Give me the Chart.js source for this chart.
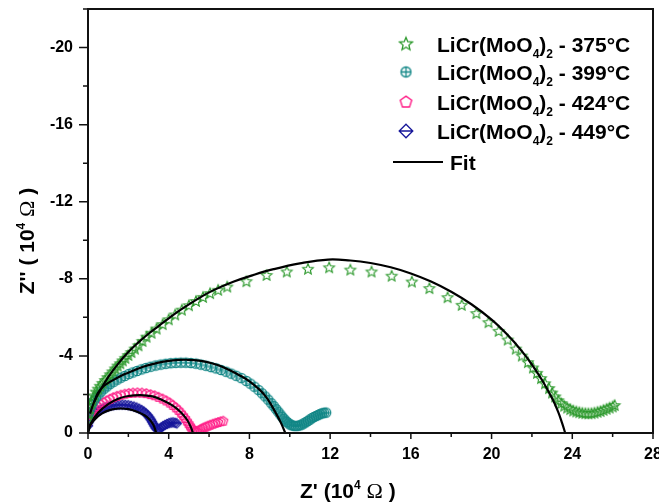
<!DOCTYPE html>
<html>
<head>
<meta charset="utf-8">
<script src="https://cdn.jsdelivr.net/npm/chart.js@4.4.1/dist/chart.umd.min.js"></script>
<style>
  html, body { margin: 0; padding: 0; background: #fff; }
  canvas { display: block; }
</style>
</head>
<body>
<canvas id="chart" width="659" height="503"></canvas>
<script>
// Nyquist data, Z' and Z'' in 10^4 ohm
const temps = ['375', '399', '424', '449'];

const x375 = [0.00, 0.02, 0.05, 0.12, 0.2, 0.3, 0.4, 0.5, 0.6, 0.72, 0.85, 0.97, 1.1, 1.22, 1.35, 1.47, 1.6, 1.72, 1.85, 2.0, 2.15, 2.32, 2.5, 2.7, 2.9, 3.15, 3.4, 3.7, 4.0, 4.32, 4.65, 5.0, 5.35, 5.7, 6.05, 6.45, 6.9, 7.85, 8.85, 9.85, 10.9, 11.95, 13.0, 14.05, 15.05, 16.05, 16.92, 17.82, 18.52, 19.25, 19.85, 20.35, 20.8, 21.2, 21.5, 21.8, 22.05, 22.25, 22.45, 22.65, 22.85, 23.0, 23.15, 23.3, 23.45, 23.6, 23.75, 23.9, 24.05, 24.2, 24.35, 24.5, 24.65, 24.8, 24.95, 25.1, 25.25, 25.4, 25.55, 25.7, 25.85, 26.0, 26.1];
const y375 = [-0.75, -1.0, -1.3, -1.5, -1.7, -1.95, -2.15, -2.3, -2.45, -2.6, -2.75, -2.9, -3.05, -3.2, -3.35, -3.5, -3.62, -3.77, -3.9, -4.05, -4.2, -4.38, -4.55, -4.78, -5.0, -5.2, -5.42, -5.65, -5.9, -6.15, -6.4, -6.63, -6.85, -7.06, -7.26, -7.43, -7.6, -7.88, -8.2, -8.38, -8.52, -8.6, -8.48, -8.38, -8.16, -7.86, -7.52, -7.05, -6.65, -6.22, -5.75, -5.3, -4.85, -4.38, -4.02, -3.68, -3.4, -3.12, -2.85, -2.58, -2.33, -2.1, -1.9, -1.7, -1.55, -1.42, -1.32, -1.24, -1.17, -1.12, -1.08, -1.05, -1.03, -1.02, -1.03, -1.06, -1.1, -1.14, -1.2, -1.26, -1.32, -1.38, -1.45];

const x399 = [0.0, 0.05, 0.12, 0.2, 0.3, 0.4, 0.52, 0.65, 0.8, 0.95, 1.1, 1.27, 1.45, 1.63, 1.82, 2.02, 2.22, 2.43, 2.65, 2.87, 3.1, 3.35, 3.6, 3.85, 4.1, 4.35, 4.6, 4.85, 5.1, 5.35, 5.6, 5.85, 6.1, 6.35, 6.6, 6.85, 7.1, 7.35, 7.6, 7.85, 8.05, 8.25, 8.45, 8.62, 8.78, 8.93, 9.08, 9.2, 9.32, 9.43, 9.53, 9.62, 9.7, 9.78, 9.86, 9.94, 10.02, 10.1, 10.2, 10.3, 10.4, 10.5, 10.6, 10.7, 10.8, 10.9, 11.0, 11.1, 11.2, 11.3, 11.4, 11.5, 11.6, 11.7, 11.8];
const y399 = [-0.8, -1.05, -1.3, -1.5, -1.68, -1.85, -2.0, -2.15, -2.3, -2.42, -2.55, -2.66, -2.77, -2.87, -2.96, -3.06, -3.14, -3.22, -3.3, -3.37, -3.44, -3.5, -3.55, -3.59, -3.62, -3.64, -3.65, -3.65, -3.63, -3.6, -3.55, -3.49, -3.42, -3.35, -3.27, -3.18, -3.08, -2.97, -2.85, -2.7, -2.56, -2.4, -2.23, -2.06, -1.9, -1.73, -1.55, -1.4, -1.24, -1.1, -0.96, -0.84, -0.74, -0.65, -0.57, -0.5, -0.44, -0.4, -0.37, -0.36, -0.37, -0.4, -0.44, -0.5, -0.56, -0.63, -0.7, -0.77, -0.83, -0.88, -0.93, -0.98, -1.02, -1.05, -1.06];

const x424 = [0.0, 0.04, 0.1, 0.18, 0.27, 0.37, 0.5, 0.63, 0.77, 0.92, 1.08, 1.25, 1.43, 1.62, 1.82, 2.02, 2.23, 2.45, 2.67, 2.89, 3.1, 3.3, 3.5, 3.7, 3.88, 4.05, 4.2, 4.35, 4.48, 4.6, 4.71, 4.81, 4.9, 4.98, 5.05, 5.12, 5.19, 5.26, 5.33, 5.4, 5.47, 5.55, 5.63, 5.72, 5.82, 5.93, 6.05, 6.18, 6.31, 6.44, 6.57, 6.7];
const y424 = [-0.62, -0.8, -0.95, -1.08, -1.2, -1.3, -1.4, -1.5, -1.6, -1.69, -1.78, -1.86, -1.93, -1.99, -2.04, -2.08, -2.1, -2.11, -2.1, -2.07, -2.02, -1.96, -1.88, -1.79, -1.69, -1.58, -1.46, -1.33, -1.2, -1.06, -0.92, -0.78, -0.64, -0.51, -0.39, -0.28, -0.19, -0.13, -0.1, -0.1, -0.13, -0.18, -0.23, -0.28, -0.33, -0.38, -0.43, -0.48, -0.53, -0.57, -0.61, -0.64];

const x449 = [0.0, 0.03, 0.08, 0.15, 0.23, 0.32, 0.42, 0.52, 0.63, 0.75, 0.87, 1.0, 1.13, 1.27, 1.41, 1.55, 1.7, 1.85, 2.0, 2.14, 2.28, 2.41, 2.54, 2.66, 2.77, 2.87, 2.96, 3.04, 3.11, 3.17, 3.23, 3.29, 3.35, 3.41, 3.48, 3.55, 3.63, 3.72, 3.82, 3.92, 4.02, 4.12, 4.22, 4.32, 4.4];
const y449 = [-0.38, -0.55, -0.68, -0.8, -0.9, -0.99, -1.07, -1.14, -1.21, -1.27, -1.32, -1.37, -1.41, -1.44, -1.46, -1.47, -1.47, -1.46, -1.44, -1.41, -1.37, -1.32, -1.26, -1.19, -1.11, -1.02, -0.92, -0.81, -0.7, -0.59, -0.48, -0.37, -0.27, -0.2, -0.18, -0.22, -0.29, -0.36, -0.42, -0.47, -0.51, -0.54, -0.55, -0.53, -0.5];

// fitted curves
const fitX375 = [0.1, 0.3, 0.6, 1.0, 1.5, 2.0, 2.5, 3.0, 3.5, 4.0, 4.6, 5.5, 6.2, 7.2, 8.2, 9.2, 10.5, 11.9, 13.0, 14.0, 15.0, 16.0, 17.0, 18.0, 19.0, 20.0, 20.8, 21.5, 22.0, 22.5, 23.0, 23.3, 23.5, 23.65];
const fitY375 = [-1.0, -1.6, -2.2, -2.9, -3.6, -4.2, -4.7, -5.15, -5.55, -5.95, -6.4, -7.0, -7.4, -7.85, -8.2, -8.5, -8.8, -9.0, -8.95, -8.82, -8.6, -8.28, -7.86, -7.33, -6.68, -5.88, -5.08, -4.25, -3.55, -2.75, -1.8, -1.1, -0.5, 0];

const fitX399 = [0.3, 0.5, 0.8, 1.2, 1.6, 2.0, 2.5, 3.0, 3.5, 4.0, 4.5, 4.9, 5.5, 6.0, 6.5, 7.0, 7.5, 8.0, 8.5, 8.8, 9.0, 9.3, 9.55, 9.78];
const fitY399 = [-1.6, -2.1, -2.45, -2.72, -2.95, -3.13, -3.35, -3.52, -3.65, -3.74, -3.79, -3.8, -3.76, -3.66, -3.5, -3.27, -3.0, -2.68, -2.25, -1.9, -1.6, -1.05, -0.55, 0];

const fitX424 = [0.0, 0.15, 0.5, 1.0, 1.5, 2.0, 2.6, 3.2, 3.7, 4.2, 4.6, 4.9, 5.1, 5.2];
const fitY424 = [0, -0.5, -1.05, -1.5, -1.78, -1.92, -1.97, -1.9, -1.7, -1.42, -1.08, -0.7, -0.3, 0];

const fitX449 = [0.0, 0.1, 0.35, 0.7, 1.1, 1.55, 2.0, 2.4, 2.8, 3.05, 3.25, 3.38];
const fitY449 = [0, -0.4, -0.72, -1.02, -1.2, -1.27, -1.24, -1.12, -0.92, -0.7, -0.4, 0];

const colors = ['#2a982a', '#138787', '#ff1f88', '#16169a'];

const toPts = (xs, ys) => xs.map((x, i) => ({ x: x, y: ys[i] }));

function makeMarker(kind, color, r, lw) {
  const s = Math.ceil(2 * r + lw + 3);
  const c = document.createElement('canvas');
  c.width = s; c.height = s;
  const g = c.getContext('2d');
  const m = s / 2;
  g.strokeStyle = color;
  g.lineWidth = lw;
  g.beginPath();
  if (kind === 'star') {
    for (let i = 0; i < 10; i++) {
      const a = -Math.PI / 2 + i * Math.PI / 5;
      const rr = i % 2 ? r * 0.45 : r;
      const px = m + rr * Math.cos(a), py = m + rr * Math.sin(a) + r * 0.1;
      i ? g.lineTo(px, py) : g.moveTo(px, py);
    }
    g.closePath();
  } else if (kind === 'circlePlus') {
    g.arc(m, m, r, 0, Math.PI * 2);
    g.moveTo(m - r, m); g.lineTo(m + r, m);
    g.moveTo(m, m - r); g.lineTo(m, m + r);
  } else if (kind === 'pentagon') {
    for (let i = 0; i < 5; i++) {
      const a = -Math.PI / 2 + i * 2 * Math.PI / 5;
      const px = m + r * Math.cos(a), py = m + r * Math.sin(a) + r * 0.1;
      i ? g.lineTo(px, py) : g.moveTo(px, py);
    }
    g.closePath();
  } else {
    g.moveTo(m, m - r); g.lineTo(m + r, m); g.lineTo(m, m + r); g.lineTo(m - r, m); g.closePath();
    g.moveTo(m - r, m); g.lineTo(m + r, m);
  }
  g.stroke();
  return c;
}

const dataMarkers = [
  makeMarker('star', colors[0], 5.6, 1.1),
  makeMarker('circlePlus', colors[1], 4.7, 1.2),
  makeMarker('pentagon', colors[2], 4.8, 1.2),
  makeMarker('diamondLine', colors[3], 4.7, 1.2)
];
const legendMarkers = [
  makeMarker('star', colors[0], 6.8, 1.3),
  makeMarker('circlePlus', colors[1], 5, 1.3),
  makeMarker('pentagon', colors[2], 6, 1.4),
  makeMarker('diamondLine', colors[3], 6.8, 1.3)
];

const series = [toPts(x375, y375), toPts(x399, y399), toPts(x424, y424), toPts(x449, y449)];
const fits = [toPts(fitX375, fitY375), toPts(fitX399, fitY399), toPts(fitX424, fitY424), toPts(fitX449, fitY449)];

const FONT = '"Liberation Sans", Arial, sans-serif';

function drawRich(ctx, parts, x, y, align) {
  let w = 0;
  parts.forEach(p => { ctx.font = p.font; p.w = ctx.measureText(p.t).width; w += p.w; });
  let cx = align === 'center' ? x - w / 2 : x;
  ctx.textAlign = 'left';
  ctx.textBaseline = 'alphabetic';
  parts.forEach(p => {
    ctx.font = p.font;
    ctx.fillText(p.t, cx, y + (p.dy || 0));
    cx += p.w;
  });
}

const big = 'bold 21px ' + FONT;
const small = 'bold 12px ' + FONT;
const omega = '22px "Liberation Serif", serif';

const decor = {
  id: 'decor',
  afterDraw(chart) {
    const { ctx, chartArea: a, scales: { x, y } } = chart;
    ctx.save();
    // ticks
    ctx.strokeStyle = '#111';
    ctx.lineWidth = 1.5;
    ctx.beginPath();
    for (let v = 0; v <= 28; v += 2) {
      const px = x.getPixelForValue(v);
      const len = v % 4 === 0 ? 6 : 4;
      ctx.moveTo(px, a.bottom); ctx.lineTo(px, a.bottom + len);
    }
    for (let v = 0; v >= -22; v -= 2) {
      const py = y.getPixelForValue(v);
      const len = v % 4 === 0 ? 9 : 5;
      ctx.moveTo(a.left - len, py); ctx.lineTo(a.left, py);
    }
    ctx.stroke();
    // frame
    ctx.lineWidth = 2;
    ctx.strokeRect(a.left, a.top, a.right - a.left, a.bottom - a.top);

    ctx.fillStyle = '#000';
    // x title
    drawRich(ctx, [
      { t: "Z' (10", font: big },
      { t: '4', font: small, dy: -9 },
      { t: ' ', font: big },
      { t: '\u03A9', font: omega },
      { t: ' )', font: big }
    ], 300, 498, 'left');
    // y title
    ctx.save();
    ctx.translate(27, 241);
    ctx.rotate(-Math.PI / 2);
    drawRich(ctx, [
      { t: "Z'' ( 10", font: big },
      { t: '4', font: small, dy: -9 },
      { t: ' ', font: big },
      { t: '\u03A9', font: omega },
      { t: ' )', font: big }
    ], 0, 7, 'center');
    ctx.restore();

    // legend
    const rows = [43.5, 72, 101.5, 131];
    rows.forEach((ry, i) => {
      const img = legendMarkers[i];
      ctx.drawImage(img, 406 - img.width / 2, ry - img.height / 2);
      drawRich(ctx, [
        { t: 'LiCr(MoO', font: big },
        { t: '4', font: small, dy: 6 },
        { t: ')', font: big },
        { t: '2', font: small, dy: 6 },
        { t: ' - ' + temps[i] + '\u00B0C', font: big }
      ], 437, ry + 8, 'left');
    });
    ctx.lineWidth = 2;
    ctx.strokeStyle = '#000';
    ctx.beginPath();
    ctx.moveTo(393, 162); ctx.lineTo(443, 162);
    ctx.stroke();
    drawRich(ctx, [{ t: 'Fit', font: big }], 450, 170, 'left');
    ctx.restore();
  }
};

const datasets = [];
fits.forEach((f, i) => datasets.push({
  label: 'Fit ' + temps[i],
  data: f,
  showLine: true,
  borderColor: '#000',
  borderWidth: 2.2,
  pointRadius: 0,
  tension: 0.4,
  order: 0
}));
series.forEach((s, i) => datasets.push({
  label: 'LiCr(MoO4)2 - ' + temps[i] + '\u00B0C',
  data: s,
  showLine: false,
  pointStyle: dataMarkers[i],
  pointRadius: 5,
  order: 1
}));

const tickFont = { family: FONT, size: 16, weight: 'bold' };

new Chart(document.getElementById('chart'), {
  type: 'scatter',
  data: { datasets: datasets },
  options: {
    responsive: false,
    animation: false,
    devicePixelRatio: 1,
    layout: { padding: { top: 9, right: 4, left: 0, bottom: 0 } },
    plugins: { legend: { display: false }, tooltip: { enabled: false } },
    scales: {
      x: {
        type: 'linear',
        min: 0,
        max: 28,
        grid: { display: false, drawTicks: false },
        border: { display: false },
        ticks: {
          stepSize: 2,
          autoSkip: false,
          maxRotation: 0,
          padding: 12,
          color: '#000',
          font: tickFont,
          callback: v => (v % 4 === 0 ? v : '')
        },
        afterFit(s) { s.height = 70; s.paddingLeft = 0; s.paddingRight = 0; }
      },
      y: {
        type: 'linear',
        min: -22,
        max: 0,
        reverse: true,
        grid: { display: false, drawTicks: false },
        border: { display: false },
        ticks: {
          stepSize: 2,
          autoSkip: false,
          padding: 15,
          color: '#000',
          font: tickFont,
          callback: v => (Math.abs(v) % 4 === 0 ? v : '')
        },
        afterFit(s) { s.width = 88; s.paddingTop = 0; s.paddingBottom = 0; }
      }
    }
  },
  plugins: [decor]
});
</script>
</body>
</html>
